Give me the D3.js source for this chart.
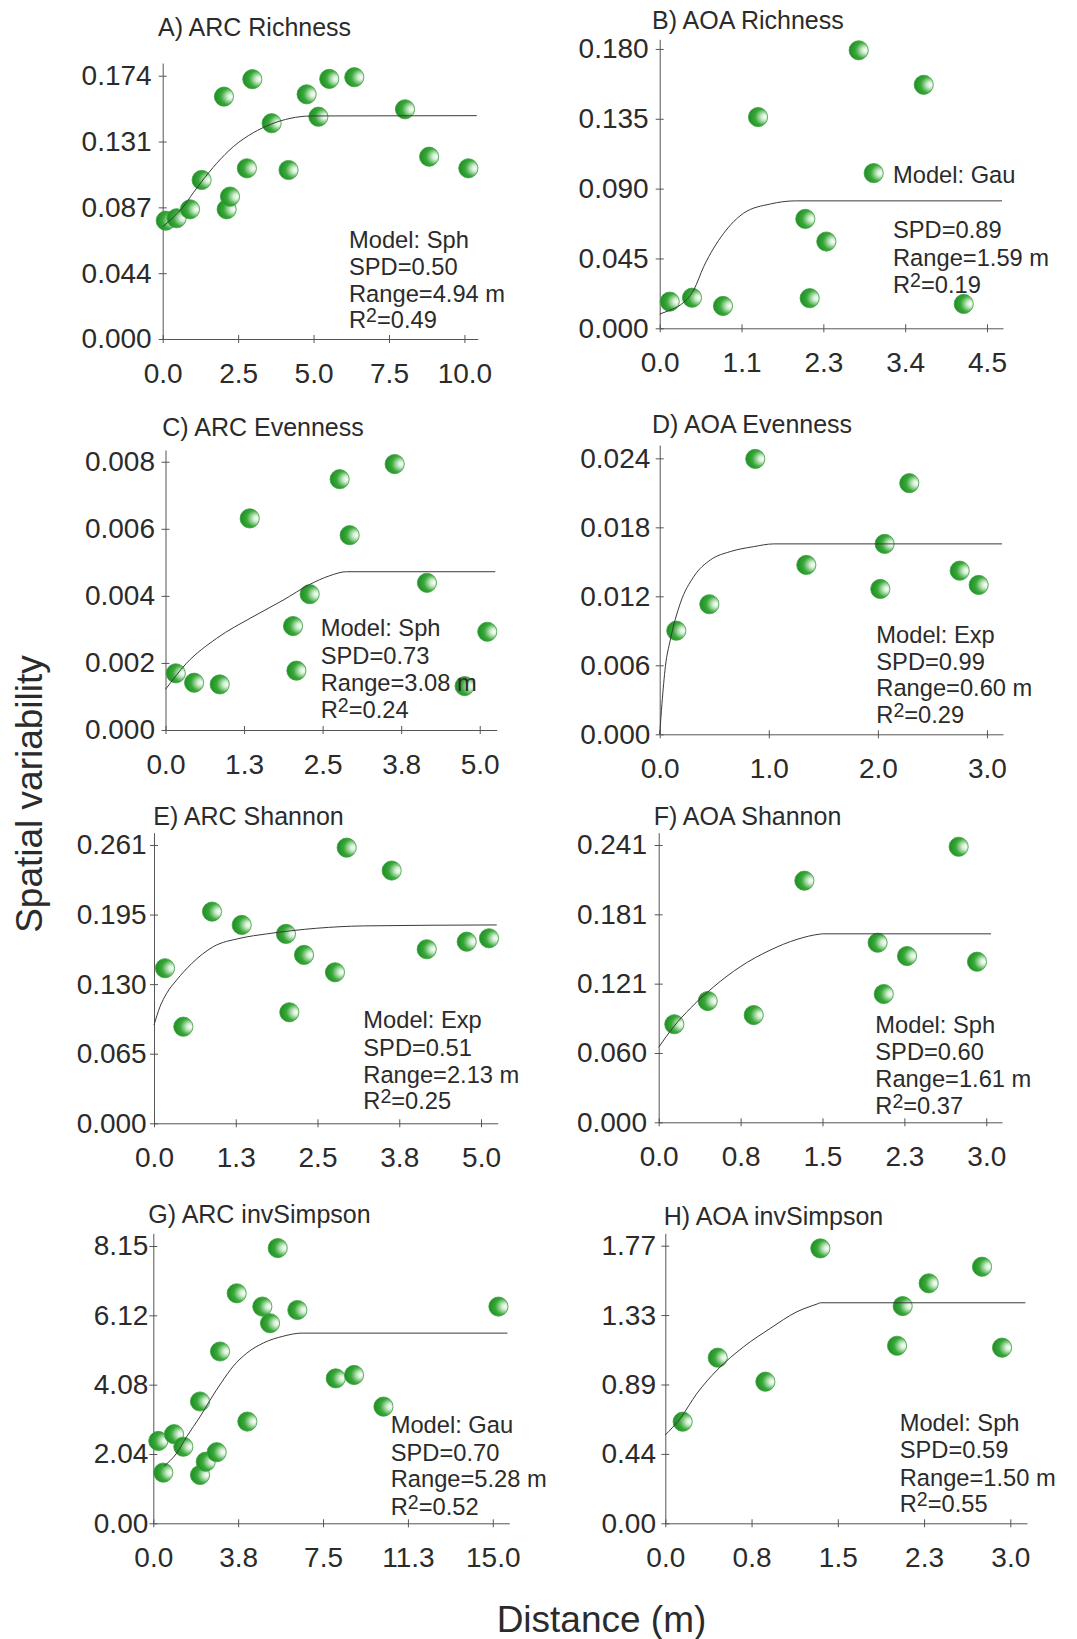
<!DOCTYPE html>
<html><head><meta charset="utf-8">
<script src="https://cdn.jsdelivr.net/npm/d3@7"></script>
<style>body{margin:0;background:#fff} svg{display:block}</style>
</head><body><svg id="c" width="1077" height="1639"></svg>
<script>
// ---------- DATA ----------
const titles = ["A) ARC Richness","B) AOA Richness","C) ARC Evenness","D) AOA Evenness",
                "E) ARC Shannon","F) AOA Shannon","G) ARC invSimpson","H) AOA invSimpson"];

const ptsA = [[0.10,0.0782],[0.46,0.0798],[0.905,0.0857],[1.29,0.1051],[2.03,0.1602],[2.12,0.0857],[2.23,0.0941],
  [2.97,0.1717],[2.79,0.1128],[3.61,0.1426],[4.17,0.1117],[4.77,0.1617],[5.16,0.1469],[5.52,0.1719],[6.35,0.1730],
  [8.03,0.1518],[8.83,0.1205],[10.13,0.1128]];
const ptsB = [[0.138,0.0172],[0.444,0.0197],[0.870,0.0144],[1.352,0.1361],[2.002,0.0705],[2.062,0.0194],[2.291,0.0559],
  [2.736,0.1791],[2.942,0.1000],[3.630,0.1569],[4.180,0.0157]];
const ptsC = [[0.164,0.00169],[0.455,0.00141],[0.863,0.00136],[1.340,0.00631],[2.029,0.00310],[2.083,0.00177],[2.294,0.00405],
  [2.771,0.00748],[2.930,0.00581],[3.646,0.00793],[4.160,0.00439],[4.759,0.00131],[5.120,0.00293]];
const ptsD = [[0.152,0.00901],[0.455,0.01131],[0.876,0.02395],[1.344,0.01473],[2.022,0.01264],[2.062,0.01656],[2.288,0.02184],
  [2.750,0.01423],[2.924,0.01299]];
const ptsE = [[0.168,0.1454],[0.448,0.0906],[0.887,0.1985],[1.341,0.1860],[2.018,0.1776],[2.069,0.1041],[2.294,0.1579],
  [2.767,0.1416],[2.946,0.2585],[3.634,0.2370],[4.170,0.1632],[4.781,0.1703],[5.122,0.1735]];
const ptsF = [[0.143,0.0852],[0.449,0.1054],[0.870,0.0932],[1.334,0.2100],[2.005,0.1561],[2.061,0.1115],[2.274,0.1445],
  [2.747,0.2395],[2.915,0.1396]];
const ptsG = [[0.221,2.42],[0.442,1.49],[0.915,2.62],[1.326,2.25],[2.064,3.58],[2.064,1.42],[2.316,1.81],[2.802,2.09],
  [2.948,5.05],[3.686,6.76],[4.155,2.99],[4.818,6.37],[5.158,5.88],[5.498,8.09],[6.365,6.27],[8.062,4.26],[8.871,4.36],
  [10.17,3.43],[15.25,6.37]];
const ptsH = [[0.151,0.648],[0.456,1.056],[0.870,0.903],[1.348,1.753],[2.015,1.132],[2.064,1.385],[2.290,1.530],
  [2.754,1.636],[2.928,1.120]];

// fitted model curves
const curveA = [[0,0.0742],[0.35,0.0804],[0.683,0.0874],[1.015,0.0967],[1.29,0.1040],[1.79,0.1161],[2.34,0.1271],
  [3.00,0.1363],[3.61,0.1421],[4.22,0.1458],[4.94,0.1474],[10.41,0.1476]];
const curveB = [[0,0.0092],[0.146,0.0118],[0.283,0.0150],[0.468,0.0247],[0.605,0.0397],[0.880,0.0612],[1.155,0.0742],
  [1.522,0.0801],[1.865,0.0821],[4.707,0.0821]];
const curveC = [[0,0.00121],[0.334,0.00199],[0.811,0.00273],[1.393,0.00338],[1.870,0.00387],[2.294,0.00434],
  [2.612,0.00460],[2.878,0.00472],[5.247,0.00472]];
const curveD = [[0,0],[0.021,0.0027],[0.052,0.00588],[0.097,0.0082],[0.189,0.0114],[0.312,0.01371],[0.464,0.01516],
  [0.647,0.01589],[0.862,0.01632],[1.045,0.01656],[3.138,0.01656]];
const curveE = [[0,0.0922],[0.092,0.1094],[0.194,0.1219],[0.347,0.1344],[0.576,0.1498],[0.907,0.1656],[1.315,0.1735],
  [1.723,0.1776],[2.488,0.1829],[3.2,0.1851],[5.24,0.186]];
const curveF = [[0,0.0652],[0.137,0.0831],[0.290,0.0991],[0.504,0.1178],[0.747,0.1352],[1.022,0.1497],[1.267,0.159],
  [1.48,0.1636],[1.5,0.1638],[3.043,0.1638]];
const curveG = [[0.473,1.68],[1.03,2.06],[1.476,2.55],[2.064,3.13],[2.506,3.62],[3.023,4.15],[3.536,4.62],[4.128,5.0],
  [4.862,5.3],[5.746,5.5],[6.559,5.59],[15.65,5.59]];
const curveH = [[0,0.563],[0.130,0.669],[0.276,0.829],[0.450,0.977],[0.682,1.126],[0.913,1.243],[1.145,1.349],
  [1.319,1.398],[1.35,1.406],[3.131,1.406]];

// model stats: model, SPD, range (m), R2
const statsA = ["Sph","0.50","4.94","0.49"];
const statsB = ["Gau","0.89","1.59","0.19"];
const statsC = ["Sph","0.73","3.08","0.24"];
const statsD = ["Exp","0.99","0.60","0.29"];
const statsE = ["Exp","0.51","2.13","0.25"];
const statsF = ["Sph","0.60","1.61","0.37"];
const statsG = ["Gau","0.70","5.28","0.52"];
const statsH = ["Sph","0.59","1.50","0.55"];

// ticks
const yTicksA = [0,0.0435,0.087,0.1305,0.174],  yLabA = ["0.000","0.044","0.087","0.131","0.174"];
const yTicksB = [0,0.045,0.09,0.135,0.18],      yLabB = ["0.000","0.045","0.090","0.135","0.180"];
const yTicksC = [0,0.002,0.004,0.006,0.008],    yLabC = ["0.000","0.002","0.004","0.006","0.008"];
const yTicksD = [0,0.006,0.012,0.018,0.024],    yLabD = ["0.000","0.006","0.012","0.018","0.024"];
const yTicksE = [0,0.06525,0.1305,0.19575,0.261], yLabE = ["0.000","0.065","0.130","0.195","0.261"];
const yTicksF = [0,0.06025,0.1205,0.18075,0.241], yLabF = ["0.000","0.060","0.121","0.181","0.241"];
const yTicksG = [0,2.0375,4.075,6.1125,8.15],   yLabG = ["0.00","2.04","4.08","6.12","8.15"];
const yTicksH = [0,0.4425,0.885,1.3275,1.77],   yLabH = ["0.00","0.44","0.89","1.33","1.77"];

const xTicksA = [0,2.5,5,7.5,10],         xLabA = ["0.0","2.5","5.0","7.5","10.0"];
const xTicksB = [0,1.125,2.25,3.375,4.5], xLabB = ["0.0","1.1","2.3","3.4","4.5"];
const xTicksC = [0,1.25,2.5,3.75,5],      xLabC = ["0.0","1.3","2.5","3.8","5.0"];
const xTicksD = [0,1,2,3],                xLabD = ["0.0","1.0","2.0","3.0"];
const xTicksE = [0,1.25,2.5,3.75,5],      xLabE = ["0.0","1.3","2.5","3.8","5.0"];
const xTicksF = [0,0.75,1.5,2.25,3],      xLabF = ["0.0","0.8","1.5","2.3","3.0"];
const xTicksG = [0,3.75,7.5,11.25,15],    xLabG = ["0.0","3.8","7.5","11.3","15.0"];
const xTicksH = [0,0.75,1.5,2.25,3],      xLabH = ["0.0","0.8","1.5","2.3","3.0"];

const yAxisTitle = "Spatial variability";
const xAxisTitle = "Distance (m)";

// ---------- LAYOUT ----------
const layout = [
  {x0:162.7,x1:477.7,xmax:10.44,y0:339,  y1:63,    ymax:0.1824, tx:158,   ty:36,    sx:349,   sy:[248,275,302,328],   lg:11},
  {x0:659.7,x1:1003, xmax:4.72, y0:328.3,y1:39.3,  ymax:0.1862, tx:652,   ty:28.5,  sx:893,   sy:[183,238,266,293],   lg:11},
  {x0:165.5,x1:496.7,xmax:5.27, y0:730,  y1:450,   ymax:0.00835,tx:162.3, ty:435.5, sx:320.7, sy:[636,664,691,718],   lg:10.5},
  {x0:659.7,x1:1003, xmax:3.147,y0:734.3,y1:445,   ymax:0.02516,tx:652,   ty:432.5, sx:876.3, sy:[643,670,696,723],   lg:9.4},
  {x0:154,  x1:497.7,xmax:5.255,y0:1123.3,y1:832.7,ymax:0.2725, tx:153.3, ty:825,   sx:363.3, sy:[1028,1056,1083,1109],lg:7.3},
  {x0:658.7,x1:1002, xmax:3.144,y0:1122.3,y1:832.7,ymax:0.2517, tx:653.7, ty:825,   sx:875.3, sy:[1033,1060,1087,1114],lg:11.7},
  {x0:153.3,x1:509.3,xmax:15.73,y0:1523.3,y1:1233.3,ymax:8.524, tx:148.3, ty:1222.5,sx:390.7, sy:[1433,1461,1487,1515],lg:5},
  {x0:665.3,x1:1027, xmax:3.145,y0:1523.3,y1:1233.3,ymax:1.849, tx:663.7, ty:1225,  sx:899.7, sy:[1431,1458,1486,1512],lg:9.3}
];

const panels = [
  [ptsA,curveA,statsA,yTicksA,yLabA,xTicksA,xLabA],
  [ptsB,curveB,statsB,yTicksB,yLabB,xTicksB,xLabB],
  [ptsC,curveC,statsC,yTicksC,yLabC,xTicksC,xLabC],
  [ptsD,curveD,statsD,yTicksD,yLabD,xTicksD,xLabD],
  [ptsE,curveE,statsE,yTicksE,yLabE,xTicksE,xLabE],
  [ptsF,curveF,statsF,yTicksF,yLabF,xTicksF,xLabF],
  [ptsG,curveG,statsG,yTicksG,yLabG,xTicksG,xLabG],
  [ptsH,curveH,statsH,yTicksH,yLabH,xTicksH,xLabH]
];

const FONT = "'Liberation Sans', Arial, Helvetica, sans-serif";
const TXT = "#2b2b2b", AX = "#555";

const svg = d3.select("#c");
const defs = svg.append("defs");
const grad = defs.append("radialGradient").attr("id","ball")
  .attr("cx","0.68").attr("cy","0.5").attr("r","0.7").attr("fx","0.88").attr("fy","0.5");
grad.append("stop").attr("offset","0").attr("stop-color","#ffffff");
grad.append("stop").attr("offset","0.22").attr("stop-color","#d2eed2");
grad.append("stop").attr("offset","0.6").attr("stop-color","#3aa83a");
grad.append("stop").attr("offset","1").attr("stop-color","#1a8c1f");

panels.forEach((pd, i) => {
  const [pts, curve, stats, yt, yl, xt, xl] = pd;
  const L = layout[i];
  const x = d3.scaleLinear().domain([0, L.xmax]).range([L.x0, L.x1]);
  const y = d3.scaleLinear().domain([0, L.ymax]).range([L.y0, L.y1]);
  const g = svg.append("g");

  // y axis
  const gy = g.append("g").attr("transform", `translate(${L.x0},0)`)
    .call(d3.axisLeft(y).tickValues(yt).tickFormat((d,k)=>yl[k]).tickSizeInner(4).tickSizeOuter(0).tickPadding(L.lg-4));
  gy.attr("font-family", FONT).attr("font-size", 28);
  gy.selectAll(".tick line").attr("x1", 4).attr("x2", -4).attr("stroke", AX);
  gy.select(".domain").attr("stroke", AX);
  gy.selectAll(".tick text").attr("fill", TXT);

  // x axis
  const gx = g.append("g").attr("transform", `translate(0,${L.y0})`)
    .call(d3.axisBottom(x).tickValues(xt).tickFormat((d,k)=>xl[k]).tickSizeInner(4).tickSizeOuter(0).tickPadding(20));
  gx.attr("font-family", FONT).attr("font-size", 28);
  gx.selectAll(".tick line").attr("y1", -4).attr("y2", 4).attr("stroke", AX);
  gx.select(".domain").attr("stroke", AX);
  gx.selectAll(".tick text").attr("fill", TXT);

  // points
  g.append("g").selectAll("circle").data(pts).join("circle")
    .attr("cx", d => x(d[0])).attr("cy", d => y(d[1])).attr("r", 9.6)
    .attr("fill", "url(#ball)").attr("stroke", "#3f9f42").attr("stroke-width", 0.8);

  // model curve
  g.append("path").datum(curve)
    .attr("d", d3.line().x(d => x(d[0])).y(d => y(d[1])).curve(d3.curveMonotoneX))
    .attr("fill", "none").attr("stroke", "#3a3a3a").attr("stroke-width", 1);

  // title
  g.append("text").attr("x", L.tx).attr("y", L.ty).text(titles[i])
    .attr("font-family", FONT).attr("font-size", 25).attr("fill", TXT);

  // stats
  const st = g.append("g").attr("font-family", FONT).attr("font-size", 23.7).attr("fill", TXT);
  st.append("text").attr("x", L.sx).attr("y", L.sy[0]).text("Model: " + stats[0]);
  st.append("text").attr("x", L.sx).attr("y", L.sy[1]).text("SPD=" + stats[1]);
  st.append("text").attr("x", L.sx).attr("y", L.sy[2]).text("Range=" + stats[2] + " m");
  const r2 = st.append("text").attr("x", L.sx).attr("y", L.sy[3]);
  r2.append("tspan").text("R");
  r2.append("tspan").attr("dy", -6).attr("font-size", 19.5).text("2");
  r2.append("tspan").attr("dy", 6).text("=" + stats[3]);
});

svg.append("text").attr("transform", "translate(42,794) rotate(-90)")
  .attr("text-anchor", "middle").attr("font-family", FONT).attr("font-size", 37).attr("fill", TXT)
  .text(yAxisTitle);
svg.append("text").attr("x", 601.5).attr("y", 1632)
  .attr("text-anchor", "middle").attr("font-family", FONT).attr("font-size", 37).attr("fill", TXT)
  .text(xAxisTitle);
</script></body></html>
